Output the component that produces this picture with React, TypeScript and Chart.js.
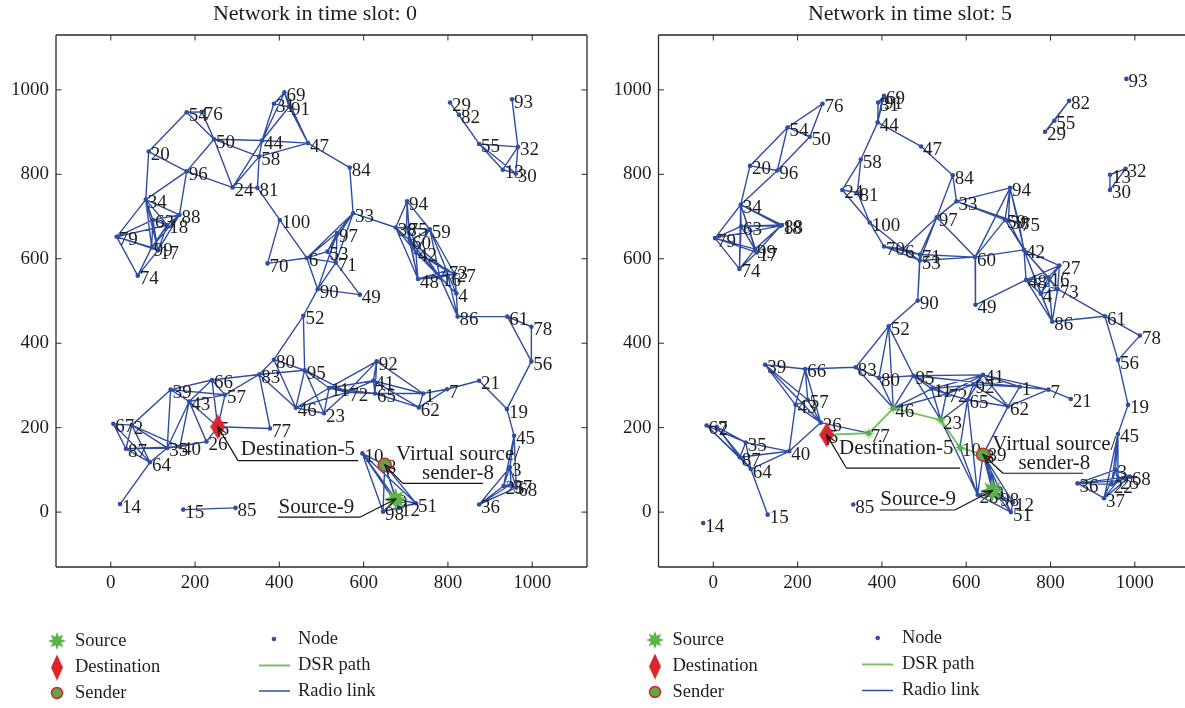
import React, { useEffect, useRef } from 'react';
import { Chart, registerables } from 'chart.js';

Chart.register(...registerables);

// ---------------- data ----------------
const axisTicks = [0, 200, 400, 600, 800, 1000];
const slotTitles = ['Network in time slot: 0', 'Network in time slot: 5'];
const legendSymbolLabels = ['Source', 'Destination', 'Sender'];
const legendLineLabels = ['Node', 'DSR path', 'Radio link'];

const sourceNode = 9;
const destinationNode = 5;
const senderNode = 8;

// [node id, x, y]
const nodesSlot0: number[][] = [
  [1, 741, 281], [2, 50, 206], [3, 947, 106], [4, 820, 518], [5, 254, 202], [6, 465, 602], [7, 798, 291],
  [8, 650, 112], [9, 676, 31], [10, 597, 139], [11, 518, 294], [12, 684, 10], [13, 930, 811], [14, 22, 19],
  [15, 172, 6], [16, 781, 556], [17, 112, 620], [18, 134, 680], [19, 940, 244], [20, 90, 854], [21, 874, 311],
  [23, 506, 234], [24, 289, 769], [25, 932, 62], [26, 227, 167], [27, 816, 564], [29, 805, 970], [30, 961, 802],
  [31, 387, 967], [32, 966, 865], [33, 575, 708], [34, 83, 740], [35, 134, 152], [36, 874, 18], [37, 950, 66],
  [38, 676, 674], [39, 142, 290], [40, 164, 155], [41, 623, 311], [42, 724, 615], [43, 186, 262], [44, 359, 880],
  [45, 957, 181], [46, 439, 247], [47, 468, 874], [48, 729, 552], [49, 591, 515], [50, 245, 883], [51, 724, 21],
  [52, 457, 465], [53, 514, 617], [54, 180, 947], [55, 874, 872], [56, 998, 357], [57, 271, 278], [58, 352, 842],
  [59, 757, 670], [60, 710, 643], [61, 941, 463], [62, 731, 248], [63, 100, 692], [64, 93, 118], [65, 627, 281],
  [66, 240, 313], [67, 6, 209], [68, 962, 58], [69, 412, 994], [70, 372, 589], [71, 534, 591], [72, 561, 284],
  [73, 797, 572], [74, 64, 560], [75, 702, 673], [76, 216, 948], [77, 378, 198], [78, 998, 439], [79, 14, 652],
  [80, 387, 361], [81, 348, 768], [82, 826, 941], [83, 352, 326], [84, 567, 816], [85, 296, 10], [86, 823, 463],
  [87, 36, 150], [88, 163, 704], [90, 491, 528], [91, 423, 960], [92, 631, 357], [93, 952, 978], [94, 703, 736],
  [95, 460, 336], [96, 180, 807], [97, 537, 661], [98, 646, 1], [99, 97, 627], [100, 401, 692],
];

const linksSlot0 = [
  '54-76 54-50 54-20 76-50 50-96 50-44 50-58 50-24 20-96 20-34 96-34 96-24 96-88 24-44 24-58 24-81 81-58',
  '58-44 58-47 44-47 44-69 44-31 44-91 31-69 31-91 69-91 69-47 91-47 81-100 100-70 100-6 70-6',
  '34-79 34-63 34-88 34-18 34-99 34-17 79-63 79-18 79-99 79-17 79-74 63-88 63-18 63-99 63-17 88-18 88-99',
  '88-17 18-99 18-17 99-17 99-74 17-74',
  '6-97 6-53 6-71 6-90 6-33 97-33 97-53 97-71 97-90 53-71 53-33 71-90 71-49 71-33 90-49 90-52 47-84 84-33 33-38',
  '94-38 94-75 94-59 94-60 38-75 38-59 38-60 38-42 38-48 75-59 75-60 75-42 75-48 75-16 59-60 59-42 59-73',
  '59-27 59-16 60-42 60-48 60-16 60-73 42-48 42-16 42-73 42-27 42-4 48-16 48-73 48-27 16-73 16-27 16-4',
  '73-27 73-4 27-4 4-86 16-86 73-86',
  '86-61 61-78 61-56 78-56 56-19 19-21 19-45 21-7 7-1 7-62 1-62 1-65 1-41 1-92 62-65 62-41',
  '52-80 52-95 80-83 80-95 80-46 83-95 83-46 95-46 95-11 95-72 95-23 46-23 46-11 46-72 23-11 23-72 11-72',
  '11-92 11-41 11-65 72-92 72-41 72-65 92-41 92-65 41-65',
  '39-66 39-57 39-43 39-2 39-35 66-57 66-43 66-5 66-83 57-43 57-5 57-83 43-35 43-40 43-5 43-26 5-77 5-26',
  '26-40 26-35 67-2 67-87 67-64 2-87 2-64 2-35 2-40 87-35 87-40 87-64 35-40 35-64 64-14 15-85 77-83',
  '10-8 10-98 10-9 10-51 10-12 8-98 8-9 8-12 8-51 9-98 9-12 9-51 98-12 12-51 98-51',
  '45-3 45-25 45-68 3-25 3-68 3-37 3-36 25-68 25-37 25-36 68-37 37-36 36-68',
  '29-82 29-55 82-55 55-32 55-13 55-30 32-13 32-30 13-30 93-32',
].join(' ');
const dsrPathSlot0: number[] = [];

const nodesSlot5: number[][] = [
  [1, 727, 297], [2, 8, 202], [3, 954, 100], [4, 777, 517], [5, 269, 183], [6, 450, 623], [7, 795, 290],
  [8, 640, 136], [9, 662, 51], [10, 585, 153], [11, 518, 292], [12, 711, 23], [13, 941, 799], [14, -24, -26],
  [15, 129, -6], [16, 795, 556], [17, 103, 615], [18, 160, 678], [19, 984, 254], [20, 87, 820], [21, 848, 268],
  [22, 945, 66], [23, 540, 218], [24, 306, 763], [25, 960, 74], [26, 255, 212], [27, 821, 584], [28, 627, 41],
  [29, 787, 901], [30, 941, 763], [31, 391, 970], [32, 978, 813], [33, 577, 736], [34, 65, 728], [35, 77, 165],
  [36, 864, 68], [37, 927, 33], [38, 700, 690], [39, 123, 349], [40, 180, 144], [41, 640, 325], [42, 737, 621],
  [43, 195, 254], [44, 390, 923], [45, 960, 185], [46, 427, 246], [47, 493, 866], [48, 742, 550], [49, 622, 491],
  [50, 229, 889], [51, 706, 0], [52, 416, 440], [53, 490, 596], [54, 176, 911], [55, 809, 927], [56, 960, 360],
  [57, 224, 266], [58, 350, 835], [59, 692, 692], [60, 621, 604], [61, 929, 464], [62, 699, 250], [63, 66, 677],
  [64, 89, 102], [65, 603, 266], [66, 218, 339], [67, -16, 205], [68, 988, 84], [69, 405, 986], [70, 405, 629],
  [71, 490, 610], [72, 553, 280], [73, 817, 528], [74, 62, 576], [75, 725, 685], [76, 259, 967], [77, 369, 187],
  [78, 1012, 418], [79, 4, 649], [80, 393, 318], [81, 342, 757], [82, 844, 974], [83, 338, 343], [84, 568, 798],
  [85, 332, 18], [86, 804, 451], [87, 63, 130], [88, 163, 680], [89, 646, 140], [90, 485, 501], [91, 400, 975],
  [92, 617, 302], [93, 980, 1026], [94, 704, 768], [95, 475, 323], [96, 152, 809], [97, 530, 698], [98, 676, 35],
  [99, 99, 623], [100, 371, 686],
];

const linksSlot5 = [
  '76-54 76-50 54-50 54-20 54-96 50-96 20-96 20-34 34-96',
  '34-79 34-63 34-18 34-88 34-99 34-17 34-74 63-79 63-18 63-88 63-99 63-17 63-74 79-99 79-17 79-74 79-18',
  '18-99 18-17 88-99 99-17 74-17 74-99',
  '69-31 69-91 31-91 69-44 31-44 91-44 44-58 44-47 58-24 58-81 24-81 24-100 81-100 100-70 100-6 70-6 70-71',
  '70-53 6-71 6-53 6-97 97-71 97-53 97-33 97-84 97-60 84-33 47-84 33-94 33-59 33-75 33-38 94-59 94-75 94-38',
  '94-42 94-60 59-60 59-42 59-75 59-38 38-75 38-42 75-42 42-60 60-49 60-53 60-71 53-71 53-90 71-90 90-52',
  '49-48 42-48 42-27 42-16 42-73 42-4 42-86 48-27 48-16 48-4 48-73 48-86 16-27 16-73 16-4 27-73 27-4 73-4',
  '73-86 4-86 16-86 73-61',
  '86-61 61-78 61-56 78-56 56-19 19-45 45-3 45-25 45-37 45-22 3-68 3-25 3-36 3-22 3-37 36-25 36-22 36-68',
  '36-37 37-68 37-25 25-68 22-68',
  '29-55 55-82 29-82 32-13 32-30 13-30',
  '52-83 52-80 52-95 52-46 83-66 83-80 83-46 80-95 80-46 95-46 95-23 95-11 95-72 95-41 95-1 46-11 46-72',
  '23-11 23-72 23-65 11-72 11-41 11-92 11-65 72-41 72-92 72-65 41-92 41-65 41-1 41-62 41-7 92-65 92-1',
  '92-62 65-62 65-10 65-28 62-1 62-7 1-7 7-21 62-8 10-28 8-9 8-28 8-98 8-12 8-51 9-28 9-98 9-12 9-51',
  '28-98 28-51 98-12 98-51 12-51 23-28 89-9 89-98',
  '39-66 39-43 39-57 39-26 66-83 66-43 66-57 66-26 43-57 43-26 43-40 57-26 26-77 26-40 40-35 40-87 40-64',
  '35-87 35-64 35-67 35-2 67-2 67-87 67-64 2-87 2-64 87-64 64-15',
].join(' ');
const dsrPathSlot5 = [5, 77, 46, 23, 10, 8];

type Note = { text: string[]; node: number; x1: number; x2: number; y: number; cx: number; ty: number; from: 'start' | 'end' };
const notesSlot0: Note[] = [
  { text: ['Destination-5'], node: 5, x1: 302, x2: 587, y: 122, cx: 444, ty: 149, from: 'start' },
  { text: ['Virtual source/', 'sender-8'], node: 8, x1: 693, x2: 883, y: 68, cx: 824, ty: 92, from: 'start' },
  { text: ['Source-9'], node: 9, x1: 396, x2: 591, y: -12, cx: 488, ty: 11, from: 'end' },
];
const notesSlot5: Note[] = [
  { text: ['Destination-5'], node: 5, x1: 316, x2: 585, y: 104, cx: 434, ty: 150, from: 'start' },
  { text: ['Virtual source/', 'sender-8'], node: 8, x1: 687, x2: 877, y: 92, cx: 809, ty: 115, from: 'start' },
  { text: ['Source-9'], node: 9, x1: 395, x2: 573, y: 5, cx: 486, ty: 31, from: 'end' },
];

// ---------------- styling ----------------
const FONT = "'Liberation Serif', 'Times New Roman', serif";
const BLUE = '#2f4ea3';
const GREEN_LINE = '#7cc266';
const GREEN = '#5db446';
const RED = '#d9262c';
const TEXT = '#1e1e1e';

function makeStar(size: number, inner: number, color: string) {
  const c = document.createElement('canvas');
  c.width = size; c.height = size;
  const ctx = c.getContext('2d')!;
  const r = size / 2;
  const n = 8;
  ctx.beginPath();
  for (let i = 0; i < 2 * n; i++) {
    const a = -Math.PI / 2 + (i * Math.PI) / n;
    const rr = i % 2 === 0 ? r : r * inner;
    ctx.lineTo(r + rr * Math.cos(a), r + rr * Math.sin(a));
  }
  ctx.closePath();
  ctx.fillStyle = color;
  ctx.fill();
  return c;
}

function makeDiamond(w: number, h: number, color: string) {
  const c = document.createElement('canvas');
  c.width = w; c.height = h;
  const ctx = c.getContext('2d')!;
  ctx.beginPath();
  ctx.moveTo(w / 2, 0); ctx.lineTo(w, h / 2); ctx.lineTo(w / 2, h); ctx.lineTo(0, h / 2);
  ctx.closePath();
  ctx.fillStyle = color;
  ctx.fill();
  return c;
}

function drawArrow(ctx: CanvasRenderingContext2D, x0: number, y0: number, x1: number, y1: number) {
  ctx.beginPath(); ctx.moveTo(x0, y0); ctx.lineTo(x1, y1); ctx.stroke();
  const a = Math.atan2(y1 - y0, x1 - x0);
  const L = 10, w = 0.38;
  ctx.beginPath();
  ctx.moveTo(x1 - L * Math.cos(a - w), y1 - L * Math.sin(a - w));
  ctx.lineTo(x1, y1);
  ctx.lineTo(x1 - L * Math.cos(a + w), y1 - L * Math.sin(a + w));
  ctx.stroke();
}

type Panel = {
  title: string; nodes: number[][]; links: string; path: number[]; notes: Note[];
  left: number; width: number; xMax: number; padLeft: number; padRight: number; titleX: number; boxRight: boolean;
  legend: { c1: number; t1: number; c2: number; l1: number; l2: number; t2: number; rows1: number[]; rows2: number[] };
};

const panels: Panel[] = [
  {
    title: slotTitles[0], nodes: nodesSlot0, links: linksSlot0, path: dsrPathSlot0, notes: notesSlot0,
    left: 0, width: 600, xMax: 1130, padLeft: 6, padRight: 13, titleX: 315, boxRight: true,
    legend: { c1: 57, t1: 75, c2: 274, l1: 259, l2: 290, t2: 298, rows1: [641, 667.5, 693], rows2: [639, 665.5, 691] },
  },
  {
    title: slotTitles[1], nodes: nodesSlot5, links: linksSlot5, path: dsrPathSlot5, notes: notesSlot5,
    left: 600, width: 625, xMax: 1119, padLeft: 8.5, padRight: 40, titleX: 310, boxRight: false,
    legend: { c1: 55, t1: 72.5, c2: 277.7, l1: 262, l2: 293, t2: 302, rows1: [640, 666.5, 692], rows2: [638, 664.5, 690.5] },
  },
];

function NetworkPanel({ panel }: { panel: Panel }) {
  const ref = useRef<HTMLCanvasElement>(null);

  useEffect(() => {
    const canvas = ref.current!;
    const byId = new Map<number, { x: number; y: number }>();
    panel.nodes.forEach((n) => byId.set(n[0], { x: n[1], y: n[2] }));

    const seen = new Set<string>();
    const linkData: any[] = [];
    panel.links.split(/\s+/).filter(Boolean).forEach((pair) => {
      const [a, b] = pair.split('-').map(Number);
      const key = a < b ? `${a}-${b}` : `${b}-${a}`;
      if (seen.has(key)) return;
      seen.add(key);
      const pa = byId.get(a), pb = byId.get(b);
      if (!pa || !pb) return;
      linkData.push({ x: pa.x, y: pa.y }, { x: pb.x, y: pb.y }, { x: pb.x, y: null });
    });

    const pathData = panel.path.map((id) => byId.get(id)!).filter(Boolean);
    const pathStars = panel.path.slice(1, -1).map((id) => byId.get(id)!).filter(Boolean);
    const nodeData = panel.nodes.map((n) => ({ x: n[1], y: n[2], id: n[0] }));

    const bigStar = makeStar(23, 0.5, GREEN);
    const smallStar = makeStar(13, 0.3, GREEN);
    const diamond = makeDiamond(15, 25, RED);
    const legendStar = makeStar(18, 0.5, GREEN);
    const legendDiamond = makeDiamond(12, 26, RED);

    const NODE_INDEX = 4;

    const plugin = {
      id: 'networkDecor',
      afterDatasetDraw(chart: any, args: any) {
        if (args.index !== NODE_INDEX) return;
        const ctx = chart.ctx;
        const xs = chart.scales.x, ys = chart.scales.y;
        ctx.save();
        ctx.font = `19px ${FONT}`;
        ctx.fillStyle = TEXT;
        ctx.textAlign = 'left';
        ctx.textBaseline = 'middle';
        nodeData.forEach((n) => {
          ctx.fillText(String(n.id), xs.getPixelForValue(n.x) + 2, ys.getPixelForValue(n.y) + 3.5);
        });
        ctx.restore();
      },
      afterDraw(chart: any) {
        const ctx: CanvasRenderingContext2D = chart.ctx;
        const xs = chart.scales.x, ys = chart.scales.y;
        const a = chart.chartArea;
        ctx.save();
        // frame
        ctx.strokeStyle = '#2a2a2a';
        ctx.lineWidth = 1.3;
        ctx.beginPath();
        ctx.moveTo(a.left, a.top); ctx.lineTo(a.left, a.bottom);
        ctx.moveTo(a.left, a.bottom); ctx.lineTo(a.right, a.bottom);
        ctx.moveTo(a.left, a.top); ctx.lineTo(a.right, a.top);
        if (panel.boxRight) { ctx.moveTo(a.right, a.top); ctx.lineTo(a.right, a.bottom); }
        ctx.stroke();
        // inward ticks
        ctx.lineWidth = 1;
        ctx.beginPath();
        axisTicks.forEach((v) => {
          const x = xs.getPixelForValue(v);
          ctx.moveTo(x, a.bottom); ctx.lineTo(x, a.bottom - 5.5);
          ctx.moveTo(x, a.top); ctx.lineTo(x, a.top + 5.5);
          const y = ys.getPixelForValue(v);
          ctx.moveTo(a.left, y); ctx.lineTo(a.left + 5.5, y);
          if (panel.boxRight) { ctx.moveTo(a.right, y); ctx.lineTo(a.right - 5.5, y); }
        });
        ctx.stroke();

        // title
        ctx.fillStyle = TEXT;
        ctx.font = `22px ${FONT}`;
        ctx.textAlign = 'center';
        ctx.textBaseline = 'middle';
        ctx.fillText(panel.title, panel.titleX, 14);

        // annotations
        ctx.strokeStyle = '#111';
        ctx.lineWidth = 1.2;
        ctx.font = `21px ${FONT}`;
        panel.notes.forEach((n) => {
          const node = byId.get(n.node)!;
          const nx = xs.getPixelForValue(node.x), ny = ys.getPixelForValue(node.y);
          const x1 = xs.getPixelForValue(n.x1), x2 = xs.getPixelForValue(n.x2), uy = ys.getPixelForValue(n.y);
          ctx.beginPath(); ctx.moveTo(x1, uy); ctx.lineTo(x2, uy); ctx.stroke();
          const sx = n.from === 'start' ? x1 : x2;
          drawArrow(ctx, sx, uy, nx, ny);
          const cx = xs.getPixelForValue(n.cx), ty = ys.getPixelForValue(n.ty);
          const lines = n.text;
          lines.forEach((t, i) => {
            ctx.fillText(t, cx, ty - (lines.length - 1 - i) * 18.7);
          });
        });

        // legend
        const L = panel.legend;
        ctx.font = `18.5px ${FONT}`;
        ctx.textAlign = 'left';
        ctx.textBaseline = 'middle';
        ctx.drawImage(legendStar, L.c1 - 9, L.rows1[0] - 9);
        ctx.drawImage(legendDiamond, L.c1 - 6, L.rows1[1] - 13);
        ctx.beginPath();
        ctx.arc(L.c1, L.rows1[2], 5.5, 0, Math.PI * 2);
        ctx.fillStyle = '#5aa847';
        ctx.fill();
        ctx.strokeStyle = RED;
        ctx.lineWidth = 1.5;
        ctx.stroke();
        ctx.fillStyle = TEXT;
        legendSymbolLabels.forEach((t, i) => ctx.fillText(t, L.t1, L.rows1[i]));

        ctx.beginPath();
        ctx.arc(L.c2, L.rows2[0], 2.3, 0, Math.PI * 2);
        ctx.fillStyle = BLUE;
        ctx.fill();
        ctx.lineWidth = 2;
        ctx.strokeStyle = GREEN_LINE;
        ctx.beginPath(); ctx.moveTo(L.l1, L.rows2[1]); ctx.lineTo(L.l2, L.rows2[1]); ctx.stroke();
        ctx.lineWidth = 1.5;
        ctx.strokeStyle = BLUE;
        ctx.beginPath(); ctx.moveTo(L.l1, L.rows2[2]); ctx.lineTo(L.l2, L.rows2[2]); ctx.stroke();
        ctx.fillStyle = TEXT;
        legendLineLabels.forEach((t, i) => ctx.fillText(t, L.t2, L.rows2[i]));
        ctx.restore();
      },
    };

    const tickFont = { family: FONT, size: 19 };
    const chart = new Chart(canvas, {
      type: 'scatter',
      data: {
        datasets: [
          { label: 'Source', data: [byId.get(sourceNode)!], pointStyle: bigStar as any, pointRadius: 11 },
          { label: 'Destination', data: [byId.get(destinationNode)!], pointStyle: diamond as any, pointRadius: 12 },
          {
            label: 'Sender', data: [byId.get(senderNode)!], pointStyle: 'circle', pointRadius: 6.5,
            backgroundColor: '#5aa847', borderColor: RED, borderWidth: 1.5,
          },
          { label: 'Path nodes', data: pathStars, pointStyle: smallStar as any, pointRadius: 6 },
          { label: 'Node', data: nodeData, pointRadius: 2.3, backgroundColor: BLUE, borderWidth: 0 },
          {
            label: 'DSR path', data: pathData, showLine: true, borderColor: GREEN_LINE, borderWidth: 2,
            pointRadius: 0, fill: false, tension: 0,
          },
          {
            label: 'Radio link', data: linkData, showLine: true, borderColor: BLUE, borderWidth: 1.4,
            pointRadius: 0, fill: false, tension: 0, spanGaps: false,
          },
        ] as any,
      },
      options: {
        responsive: false,
        animation: false,
        devicePixelRatio: 1,
        events: [],
        layout: { padding: { left: panel.padLeft, right: panel.padRight, top: 35, bottom: 111 } },
        plugins: { legend: { display: false }, tooltip: { enabled: false }, title: { display: false } },
        scales: {
          x: {
            type: 'linear', min: -130, max: panel.xMax,
            grid: { display: false, drawTicks: false }, border: { display: false },
            ticks: { font: tickFont, color: TEXT, padding: 5, maxRotation: 0, autoSkip: false, callback: (v: any) => String(v) },
            afterBuildTicks: (s: any) => { s.ticks = axisTicks.map((v) => ({ value: v })); },
            afterFit: (s: any) => { s.height = 30; },
          },
          y: {
            type: 'linear', min: -130, max: 1130,
            grid: { display: false, drawTicks: false }, border: { display: false },
            ticks: { font: tickFont, color: TEXT, padding: 7, autoSkip: false, callback: (v: any) => String(v) },
            afterBuildTicks: (s: any) => { s.ticks = axisTicks.map((v) => ({ value: v })); },
            afterFit: (s: any) => { s.width = 50; },
          },
        },
      } as any,
      plugins: [plugin],
    });
    return () => chart.destroy();
  }, [panel]);

  return (
    <canvas
      ref={ref}
      width={panel.width}
      height={708}
      style={{ position: 'absolute', left: panel.left, top: 0, width: panel.width, height: 708 }}
    />
  );
}

export default function App() {
  return (
    <div style={{ position: 'absolute', left: 0, top: 0, width: 1185, height: 708, background: '#fff', overflow: 'hidden' }}>
      {panels.map((p, i) => (
        <NetworkPanel key={i} panel={p} />
      ))}
    </div>
  );
}
